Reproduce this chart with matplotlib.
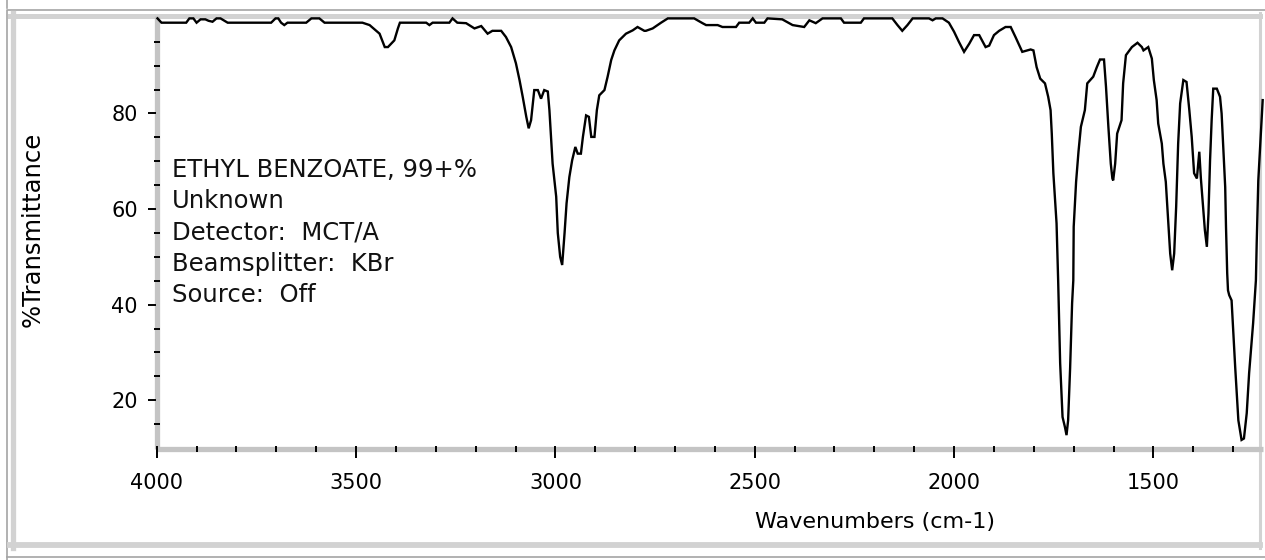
import matplotlib
matplotlib.use("Agg")
import matplotlib.pyplot as plt
from matplotlib.lines import Line2D
from matplotlib.transforms import ScaledTranslation

plt.rcParams.update({
    "xtick.color": "black",
    "ytick.color": "black",
    "xtick.labelsize": 15,
    "ytick.labelsize": 15,
    "font.family": ["DejaVu Sans"],
})

# ---------------- data ----------------
wavenumbers = [
    3998, 3988, 3926, 3918, 3908, 3900, 3890, 3878, 3870, 3860, 3850, 3840, 3822,
    3713, 3702, 3695, 3688, 3680, 3672, 3625, 3612, 3592, 3579, 3484, 3466, 3441,
    3428, 3420, 3404, 3395, 3390, 3324, 3316, 3308, 3266, 3258, 3246, 3224, 3203,
    3186, 3170, 3158, 3136, 3124, 3111, 3099, 3090, 3082, 3073, 3067, 3061, 3053,
    3044, 3036, 3028, 3019, 3015, 3007, 2998, 2994, 2988, 2983, 2977, 2972, 2965,
    2958, 2950, 2944, 2936, 2931, 2923, 2916, 2910, 2902, 2896, 2890, 2877, 2869,
    2860, 2852, 2840, 2823, 2806, 2794, 2777, 2773, 2756, 2735, 2718, 2652, 2631,
    2622, 2593, 2581, 2547, 2539, 2514, 2505, 2497, 2476, 2468, 2431, 2405, 2376,
    2363, 2347, 2330, 2284, 2276, 2234, 2226, 2155, 2142, 2130, 2117, 2104, 2063,
    2054, 2046, 2029, 2013, 2000, 1988, 1975, 1962, 1950, 1937, 1921, 1912, 1900,
    1887, 1871, 1858, 1846, 1829, 1816, 1808, 1801, 1793, 1784, 1772, 1764, 1758,
    1755, 1751, 1743, 1739, 1734, 1728, 1722, 1718, 1714, 1709, 1704, 1701, 1700,
    1694, 1688, 1682, 1672, 1666, 1651, 1642, 1634, 1624, 1619, 1613, 1607, 1603,
    1601, 1596, 1591, 1580, 1576, 1569, 1554, 1540, 1529, 1525, 1513, 1504, 1499,
    1492, 1488, 1479, 1475, 1469, 1463, 1458, 1453, 1448, 1443, 1438, 1433, 1425,
    1417, 1410, 1404, 1398, 1391, 1385, 1381, 1375, 1371, 1366, 1362, 1358, 1354,
    1350, 1341, 1333, 1329, 1325, 1320, 1318, 1315, 1313, 1310, 1304, 1295, 1287,
    1279, 1273, 1266, 1260, 1250, 1243, 1241, 1237, 1231, 1226,
]
transmittance = [
    99.9, 99.0, 99.0, 99.9, 99.9, 99.0, 99.7, 99.7, 99.4, 99.2, 99.9, 99.9, 99.0,
    99.0, 99.9, 99.9, 99.0, 98.5, 99.0, 99.0, 99.9, 99.9, 99.0, 99.0, 98.5, 96.7,
    93.9, 93.9, 95.3, 97.8, 99.0, 99.0, 98.5, 99.0, 99.0, 99.9, 99.0, 98.9, 97.8,
    98.3, 96.7, 97.3, 97.3, 96.0, 93.9, 90.5, 87.0, 83.5, 79.3, 76.9, 78.6, 84.9,
    84.9, 83.1, 84.9, 84.6, 80.7, 69.5, 62.6, 55.0, 50.0, 48.3, 55.0, 61.2, 66.7,
    70.2, 73.0, 71.6, 71.6, 75.1, 79.6, 79.3, 75.1, 75.1, 80.7, 83.8, 84.9, 87.7,
    91.2, 93.2, 95.3, 96.7, 97.4, 98.1, 97.3, 97.3, 97.8, 99.0, 99.9, 99.9, 98.9,
    98.5, 98.5, 98.1, 98.1, 99.0, 99.0, 99.9, 99.0, 99.0, 99.9, 99.7, 98.5, 98.1,
    99.5, 98.9, 99.9, 99.9, 99.0, 99.0, 99.9, 99.9, 98.5, 97.3, 98.5, 99.9, 99.9,
    99.5, 99.9, 99.9, 99.0, 97.1, 95.0, 92.9, 94.6, 96.4, 96.4, 93.9, 94.2, 96.4,
    97.3, 98.1, 98.1, 96.0, 92.9, 93.2, 93.4, 93.2, 89.7, 87.3, 86.3, 83.5, 80.7,
    75.8, 67.5, 57.0, 45.1, 27.8, 16.5, 14.4, 12.7, 15.8, 26.7, 40.3, 45.1, 56.3,
    65.7, 72.0, 77.2, 80.7, 86.3, 87.7, 89.7, 91.3, 91.3, 85.6, 77.2, 69.5, 66.4,
    66.0, 69.5, 75.8, 78.6, 86.3, 92.2, 93.9, 94.8, 93.9, 93.2, 93.9, 91.5, 87.0,
    82.8, 77.9, 73.7, 69.5, 65.7, 57.7, 50.7, 47.2, 50.7, 60.5, 73.7, 82.1, 87.0,
    86.6, 80.7, 75.1, 67.5, 66.4, 72.0, 66.4, 59.8, 55.6, 52.1, 59.0, 70.2, 78.6,
    85.2, 85.2, 83.5, 80.0, 73.0, 64.6, 56.3, 46.6, 43.0, 42.0, 40.9, 27.0, 15.8,
    11.7, 12.0, 17.3, 25.7, 36.1, 45.1, 52.9, 66.0, 75.1, 82.8,
]
x_major_ticks = [4000, 3500, 3000, 2500, 2000, 1500]
x_minor_ticks = [3900, 3800, 3700, 3600, 3400, 3300, 3200, 3100, 2900, 2800, 2700,
                 2600, 2400, 2300, 2200, 2100, 1900, 1800, 1700, 1600, 1400, 1300]
y_major_ticks = [20, 40, 60, 80]
y_minor_ticks = [15, 25, 30, 35, 45, 50, 55, 65, 70, 75, 85, 90, 95]
info_lines = ["ETHYL BENZOATE, 99+%", "Unknown", "Detector:  MCT/A",
              "Beamsplitter:  KBr", "Source:  Off"]
x_label = "Wavenumbers (cm-1)"
y_label = "%Transmittance"

# ---------------- figure ----------------
W, H = 1265, 560
fig = plt.figure(figsize=(W / 100, H / 100), dpi=100)
fig.patch.set_facecolor("white")


def fx(x):
    return x / W


def fy(y):
    return 1 - y / H


# decorative window frame drawn in pixel space
bg = fig.add_axes([0, 0, 1, 1])
bg.set_xlim(0, W)
bg.set_ylim(H, 0)
bg.axis("off")
thin = "#a4a4a4"
band = "#d2d2d2"
bg.add_line(Line2D([6.5, 6.5], [0, 8], color=thin, lw=1.2))
bg.add_line(Line2D([7, 7, W + 5], [H + 5, 10, 10], color=thin, lw=1.2))
bg.add_line(Line2D([7, W + 5], [557, 557], color=thin, lw=1.2))
bg.add_line(Line2D([12.5, 12.5], [13, 548], color=band, lw=3.8))
bg.add_line(Line2D([10, 1260], [15.5, 15.5], color=band, lw=3.6))
bg.add_line(Line2D([10, 1260], [545, 545], color=band, lw=4.2))
bg.add_line(Line2D([1259.7, 1259.7], [13, 548], color=band, lw=2.2))

# main plot axes
left_px, right_px, top_px, bot_px = 156.7, 1263.0, 16.0, 449.0
ax = fig.add_axes([fx(left_px), fy(bot_px), fx(right_px - left_px),
                   (bot_px - top_px) / H])
ax.patch.set_alpha(0)
ax.plot(wavenumbers, transmittance, color="black", lw=1.7,
        solid_joinstyle="miter", clip_on=False, zorder=5)
ax.set_xlim(4000, 1225.2)
ax.set_ylim(9.8, 100.4)

for s in ("top", "right"):
    ax.spines[s].set_visible(False)
for s in ("left", "bottom"):
    ax.spines[s].set_color("#c4c4c4")
    ax.spines[s].set_linewidth(3.8)
    ax.spines[s].set_capstyle("butt")
    ax.spines[s].set_zorder(0.5)
ax.xaxis.set_zorder(3)
ax.yaxis.set_zorder(3)

ax.set_xticks(x_major_ticks)
ax.set_xticks(x_minor_ticks, minor=True)
ax.set_yticks(y_major_ticks)
ax.set_yticks(y_minor_ticks, minor=True)
# major tick marks are drawn below as centred '|' / '_' markers shifted outward;
# the axis' own major tick lines are given zero length, labels keep their offset.
ax.tick_params(axis="x", which="major", length=0, pad=17)
ax.tick_params(axis="y", which="major", length=0, pad=13.5)
ax.tick_params(which="minor", direction="inout", length=3.8, width=1.4)

xmark = ax.get_xaxis_transform() + ScaledTranslation(0, -2.5 / 72,
                                                     fig.dpi_scale_trans)
ax.plot(x_major_ticks, [0] * len(x_major_ticks), transform=xmark,
        ls="none", marker="|", ms=8.4, mew=1.4, color="black",
        clip_on=False, zorder=4)
ymark = ax.get_yaxis_transform() + ScaledTranslation(-3.3 / 72, 0,
                                                     fig.dpi_scale_trans)
ax.plot([0] * len(y_major_ticks), y_major_ticks, transform=ymark,
        ls="none", marker="_", ms=6.3, mew=1.4, color="black",
        clip_on=False, zorder=4)

# info block
baselines = [177, 208, 240, 271, 302]
for txt, b in zip(info_lines, baselines):
    fig.text(fx(172), fy(b), txt, fontsize=17.5,
             ha="left", va="baseline", color="#111111")

fig.text(fx(33), fy(229), y_label, rotation=90, fontsize=17.5,
         ha="center", va="center")
fig.text(fx(875), fy(522), x_label, fontsize=16, ha="center", va="center")

fig.savefig("out.png", dpi=100, facecolor="white")
